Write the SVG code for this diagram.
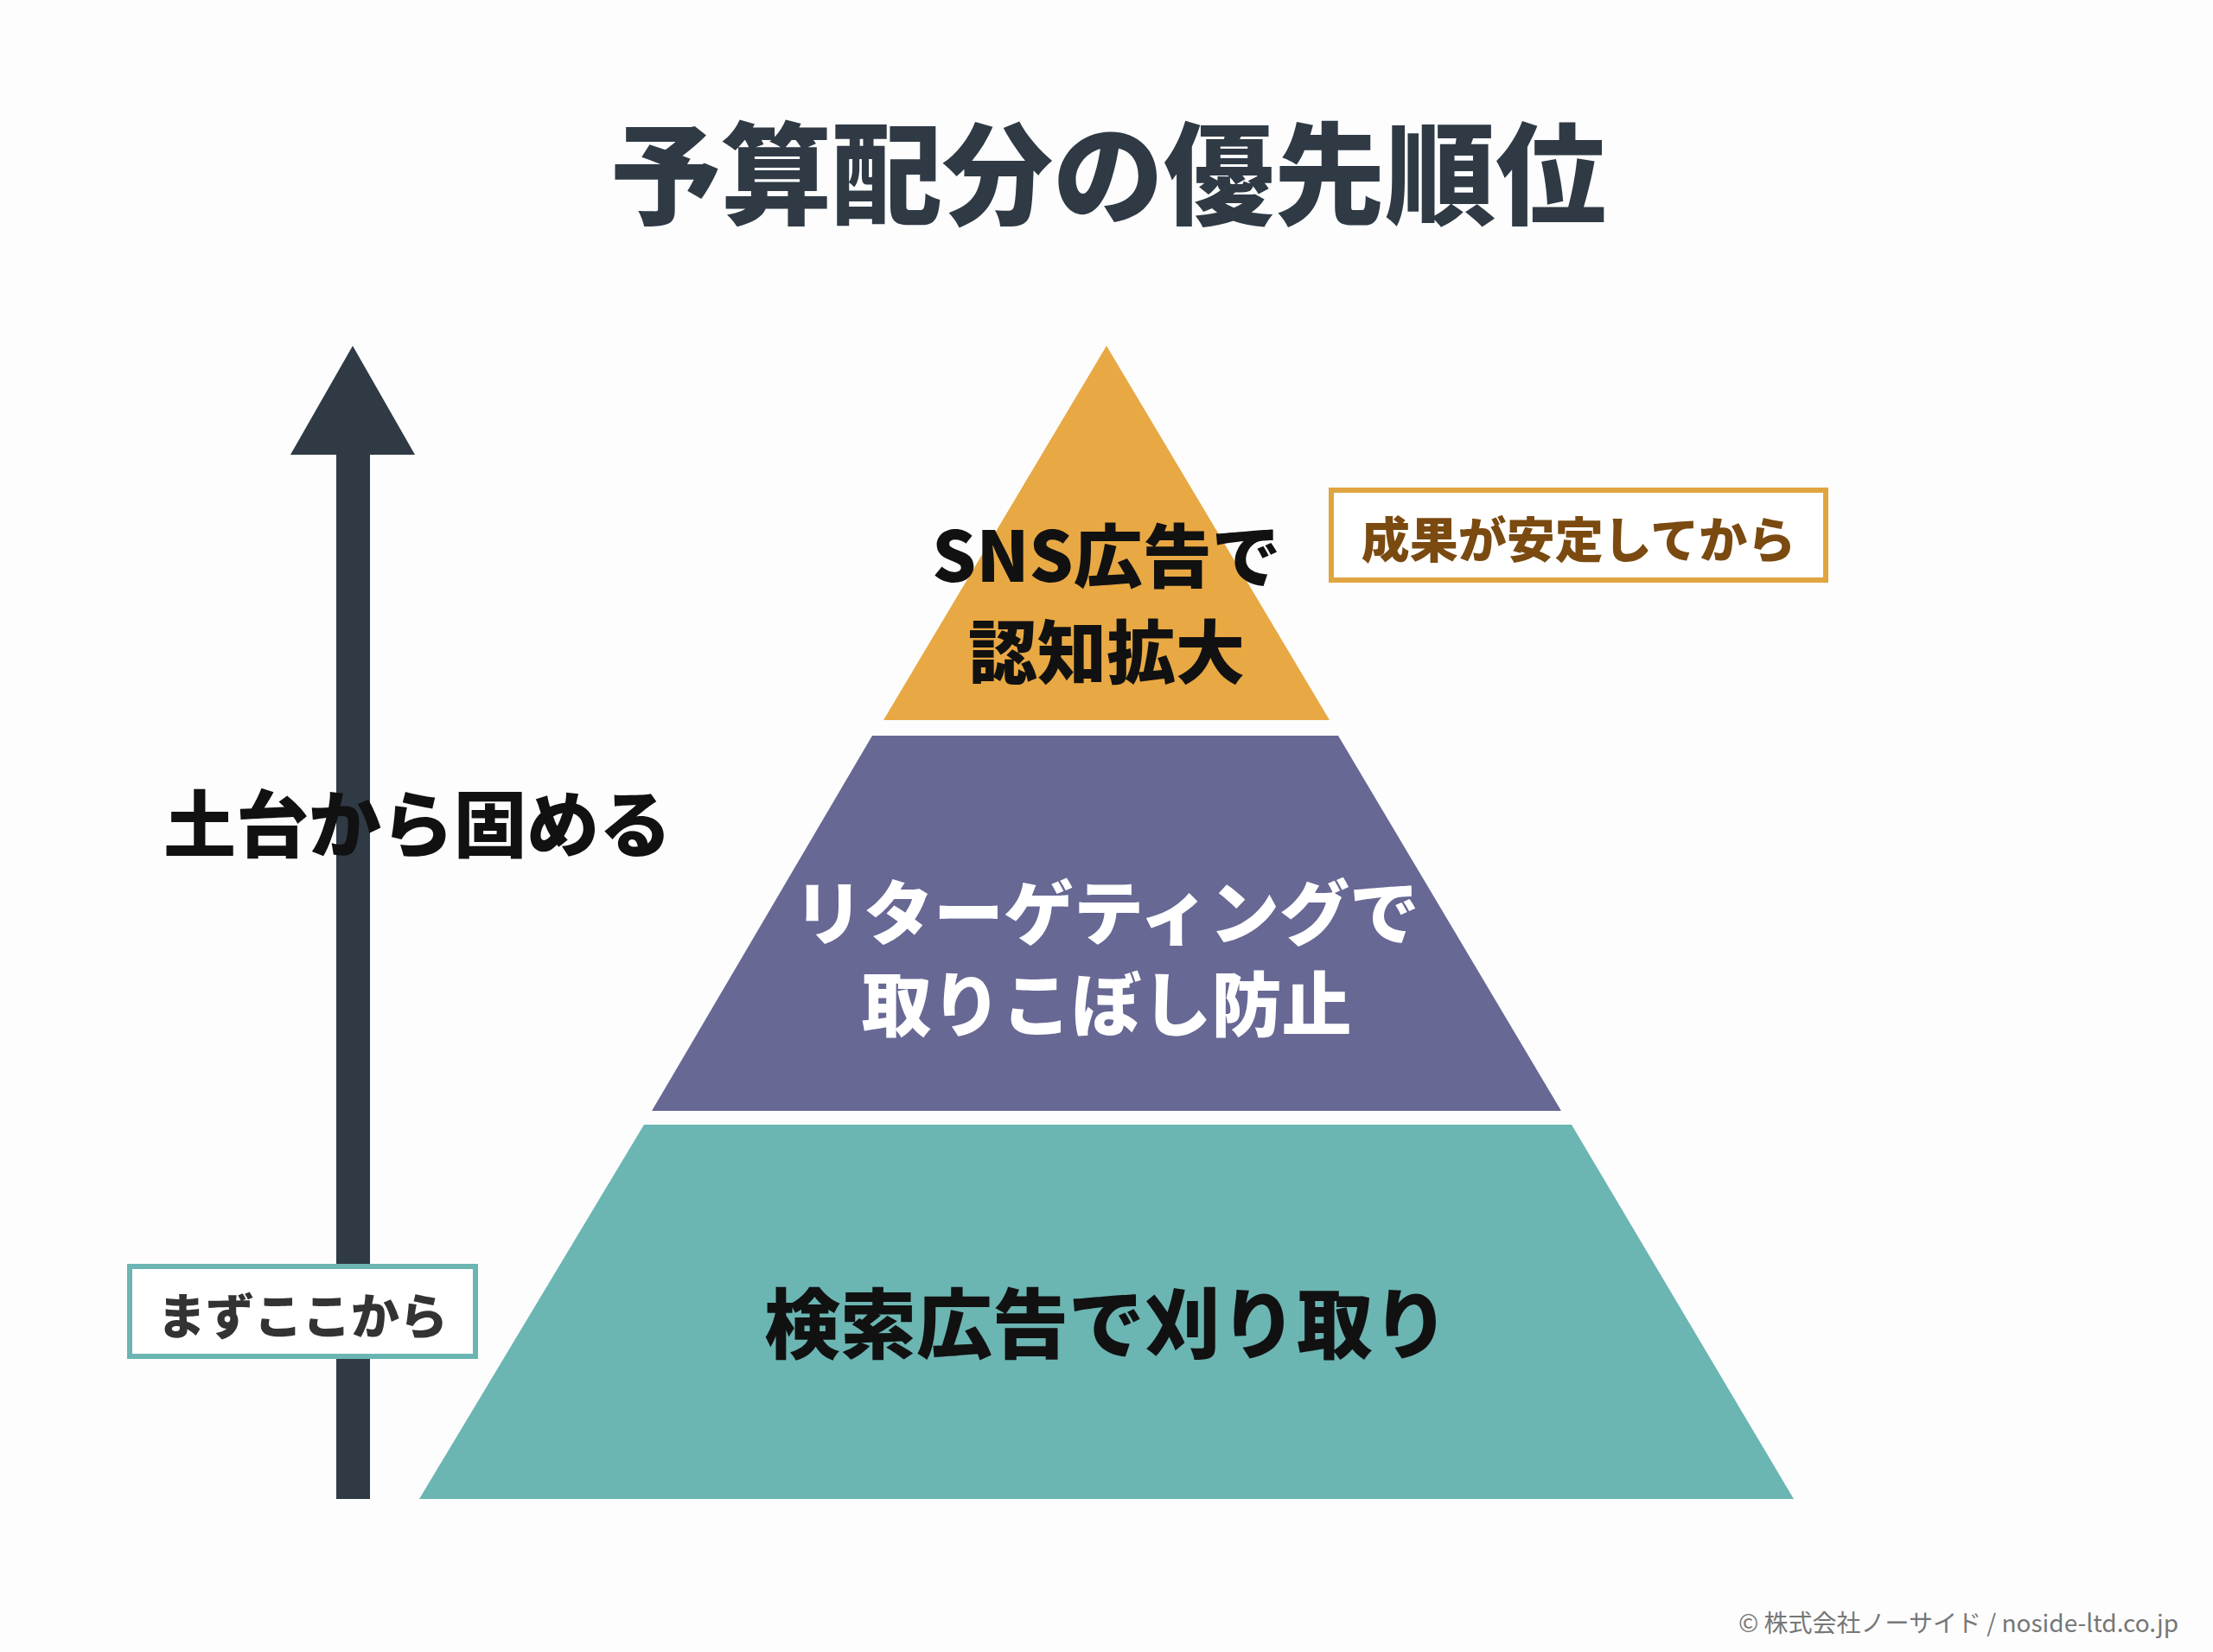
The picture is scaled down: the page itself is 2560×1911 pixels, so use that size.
<svg xmlns="http://www.w3.org/2000/svg" width="2560" height="1911" viewBox="0 0 2560 1911">
<style>
text{font-family:"Noto Sans CJK JP","Noto Sans",sans-serif;font-weight:900;text-anchor:middle}
text.foot{font-weight:400;text-anchor:end}
</style>
<rect width="2560" height="1911" fill="#fdfdfd"/>
<text x="1282" y="250" font-size="128" fill="#2f3a45">予算配分の優先順位</text>
<g id="connectors">
<rect x="389" y="520" width="39" height="1214" fill="#2f3a45"/>
<polygon points="408,400 480,526 336,526" fill="#2f3a45"/>
</g>
<g id="tier-top">
<polygon points="1280,400 1538,833 1022,833" fill="#e8a843"/>
<text x="1280" y="673" font-size="80" fill="#111">SNS広告で</text>
<text x="1280" y="784" font-size="80" fill="#111">認知拡大</text>
</g>
<g id="tier-middle">
<polygon points="1009,851 1548,851 1806,1285 754,1285" fill="#676894"/>
<text x="1280" y="1086" font-size="81" fill="#fff">リターゲティングで</text>
<text x="1280" y="1192" font-size="81" fill="#fff">取りこぼし防止</text>
</g>
<g id="tier-bottom">
<polygon points="745,1301 1818,1301 2075,1734 485,1734" fill="#6bb5b3"/>
<text x="1280" y="1564" font-size="88" fill="#111">検索広告で刈り取り</text>
</g>
<g id="label-foundation">
<text x="483" y="985" font-size="84" fill="#111">土台から固める</text>
</g>
<g id="note-stable">
<rect x="1540" y="567" width="572" height="104" fill="#fff" stroke="#e0a540" stroke-width="6"/>
<text x="1826" y="645" font-size="56" fill="#7a4a10">成果が安定してから</text>
</g>
<g id="note-start">
<rect x="150" y="1465" width="400" height="104" fill="#fff" stroke="#6bb5b3" stroke-width="6"/>
<text x="350" y="1543" font-size="56" fill="#333">まずここから</text>
</g>
<text class="foot" x="2520" y="1888" font-size="28" fill="#777">© 株式会社ノーサイド / noside-ltd.co.jp</text>
</svg>
